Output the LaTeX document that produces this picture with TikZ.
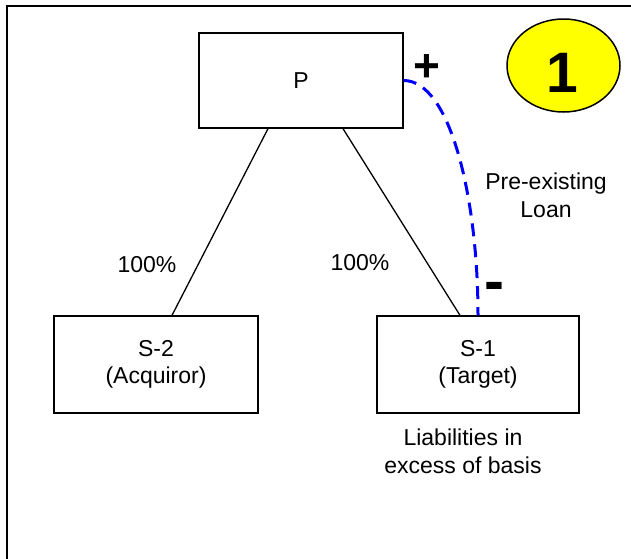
\documentclass[tikz,border=0pt]{standalone}
\usepackage{fontspec}
\setmainfont{Liberation Sans}
\usetikzlibrary{shapes.geometric}
\definecolor{loanblue}{RGB}{0,0,255}
\definecolor{badgeyellow}{RGB}{255,255,0}
\begin{document}
\begin{tikzpicture}[x=1pt,y=-1pt,
  txt/.style={font=\fontsize{23}{27.6}\selectfont},
  box/.style={draw,line width=1.3pt,inner sep=0pt,align=center,txt},
  lbl/.style={inner sep=0pt,align=center,txt},
  link/.style={line width=1.3pt},
  loan/.style={draw=loanblue,line width=3pt,dash pattern=on 13pt off 8pt},
  sign/.style={inner sep=0pt,font=\fontsize{#1}{#1}\selectfont\bfseries}]
\useasboundingbox (0,0) rectangle (631,558);
\fill[white] (0,0) rectangle (631,558);
\draw[line width=2.6pt] (7,562) -- (7,6) -- (635,6);
% boxes
\node[box,minimum width=204pt,minimum height=95pt] (P) at (301,80.5) {P};
\node[box,minimum width=204pt,minimum height=97pt] (S2) at (156,364.5) {S-2\\(Acquiror)};
\node[box,minimum width=202pt,minimum height=97pt] (S1) at (478,364.5) {S-1\\(Target)};
% ownership lines
\draw[link] ([xshift=-33pt]P.south) -- ([xshift=16pt]S2.north);
\draw[link] ([xshift=42pt]P.south) -- ([xshift=-18pt]S1.north);
\node[lbl,anchor=base] (pctL) at (147,272) {100\%};
\node[lbl,anchor=base] (pctR) at (360,270) {100\%};
% loan
\draw[loan] (P.east) .. controls +(47,0) and +(0,-116) .. (S1.north);
\node[sign=46] (plus) at (426.5,68.5) {+};
\node[sign=60] (minus) at (494.5,291.5) {-};
\node[lbl] (loanlbl) at (546,195.5) {Pre-existing\\Loan};
\node[lbl] (liab) at (463,451.5) {Liabilities in\\excess of basis};
% badge
\node[ellipse,draw,line width=1.5pt,fill=badgeyellow,minimum width=113pt,minimum height=93pt,inner sep=0pt] (E) at (563.5,65.5) {};
\node[sign=57] (one) at (562,72.5) {1};
\end{tikzpicture}
\end{document}
